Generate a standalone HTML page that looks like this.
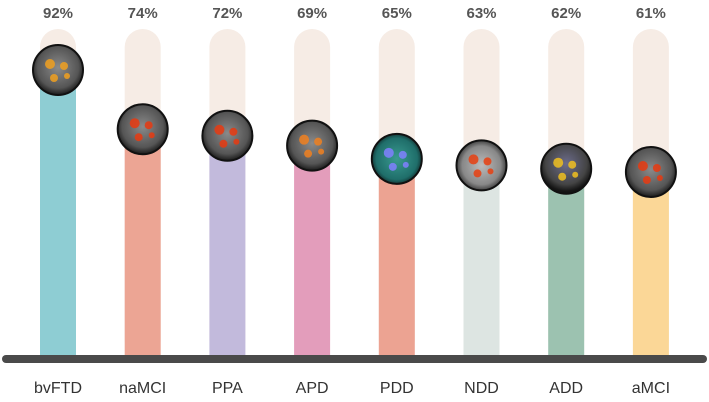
<!DOCTYPE html>
<html><head><meta charset="utf-8">
<style>
html,body{margin:0;padding:0;background:#fff;width:709px;height:402px;overflow:hidden}
svg{display:block}
text{font-family:"Liberation Sans",sans-serif}
</style></head>
<body>
<svg id="chart" width="709" height="402">
<defs>
<radialGradient id="gGray" cx="50%" cy="45%" r="55%"><stop offset="0" stop-color="#8a8a8a"/><stop offset="0.75" stop-color="#555"/><stop offset="1" stop-color="#1a1a1a"/></radialGradient>
<radialGradient id="gTeal" cx="50%" cy="50%" r="55%"><stop offset="0" stop-color="#3a9a90"/><stop offset="0.75" stop-color="#1f6e6a"/><stop offset="1" stop-color="#0d1f1f"/></radialGradient>
<radialGradient id="gLight" cx="50%" cy="50%" r="55%"><stop offset="0" stop-color="#bbb"/><stop offset="0.7" stop-color="#888"/><stop offset="1" stop-color="#222"/></radialGradient>
<radialGradient id="gBlue" cx="50%" cy="40%" r="55%"><stop offset="0" stop-color="#6c6c8c"/><stop offset="0.75" stop-color="#444"/><stop offset="1" stop-color="#151515"/></radialGradient>
</defs>
</svg>
<script>
const categories = ["bvFTD","naMCI","PPA","APD","PDD","NDD","ADD","aMCI"];
const values = [92,74,72,69,65,63,62,61];
const colors = ["#8ecdd3","#eca594","#c2badc","#e39dbb","#eca392","#dde5e2","#9cc2b0","#fbd797"];
const grads = ["gGray","gGray","gGray","gGray","gTeal","gLight","gBlue","gGray"];
const blobs = ["#f0a020","#e83a10","#e83a10","#f08020","#8080ff","#e84010","#f0c020","#e83a10"];

const svg = document.getElementById('chart');
const NS = 'http://www.w3.org/2000/svg';
const x0 = 58, step = 84.7, barW = 36, trackTop = 29, base = 358;
function xScale(i){ return x0 + i*step; }
function yScale(v){ return 70 + (92 - v) * 3.29; }
function mk(tag, attrs){ const e=document.createElementNS(NS,tag); for(const k in attrs) e.setAttribute(k,attrs[k]); svg.appendChild(e); return e; }

categories.forEach((c,i)=>{
  const cx = xScale(i), cy = yScale(values[i]);
  const tr = mk('rect',{x:cx-barW/2,y:trackTop,width:barW,height:base-trackTop,rx:18,fill:'#f6ece5'});
  
  
  const b = mk('rect',{x:cx-barW/2,y:cy,width:barW,height:base-cy,fill:colors[i]});
  
  
  const circ = mk('circle',{cx:cx,cy:cy,r:25,fill:'url(#'+grads[i]+')',stroke:'#111','stroke-width':2});
  
  
  [[-8,-6,5],[6,-4,4],[-4,8,4],[9,6,3]].forEach(p=>{
    const bl = mk('circle',{cx:cx+p[0],cy:cy+p[1],r:p[2],fill:blobs[i],opacity:0.85});
    
    
  });
  const t = mk('text',{x:cx,y:18,'text-anchor':'middle','font-size':15,'font-weight':'bold',fill:'#555'});
  t.textContent = values[i]+'%';
  
  
  const l = mk('text',{x:cx,y:393,'text-anchor':'middle','font-size':16,fill:'#333'});
  l.textContent = c;
  
  
});
const ax = mk('line',{x1:6,y1:359,x2:703,y2:359,stroke:'#4a4a4a','stroke-width':8,'stroke-linecap':'round'});


</script>
</body></html>
